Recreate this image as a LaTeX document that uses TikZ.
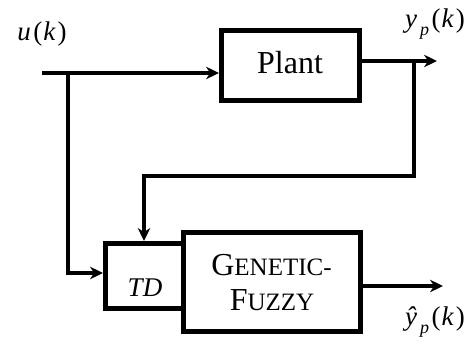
\documentclass[tikz,border=0pt]{standalone}
\usepackage{fontspec}
\setmainfont{Liberation Serif}
\usetikzlibrary{arrows.meta}
\begin{document}
\begin{tikzpicture}[x=1pt,y=-1pt,
  wire/.style={line width=3.3pt, -{Stealth[length=13pt,width=12.5pt]}},
  blk/.style={draw, line width=5pt, inner sep=0pt, fill=white},
  txt/.style={inner sep=0pt, font=\fontsize{32}{37}\selectfont},
  lbl/.style={inner sep=0pt, font=\fontsize{27}{32}\selectfont}]
\useasboundingbox (0,0) rectangle (474,352);
% blocks
\node[blk, minimum width=138pt, minimum height=70pt] (plant) at (290.5,65.5) {};
\node[txt] (plantt) at (290,62.5) {Plant};
\node[blk, minimum width=78pt, minimum height=65pt] (td) at (144.5,276) {};
\node[blk, minimum width=177pt, minimum height=99pt] (gf) at (272,282) {};
\node[inner sep=0pt, font=\fontsize{27}{32}\selectfont\itshape] (tdt) at (145,288) {TD};
\node[txt] (gft1) at (271.5,265) {G{\fontsize{25}{29}\selectfont ENETIC-}};
\node[txt] (gft2) at (272,300) {F{\fontsize{25}{29}\selectfont UZZY}};
% coordinates
\coordinate (uin) at (42,73);
\coordinate (br) at (68,73);
\coordinate (tdin) at (68,273);
\coordinate (pout) at (437,61);
\coordinate (fb1) at (414,61);
\coordinate (fb2) at (414,176);
\coordinate (fb3) at (144,176);
\coordinate (gout) at (443,286);
% connectors
\draw[wire] (uin) -- (uin -| plant.west);
\draw[wire] (br) -- (tdin) -- (tdin -| td.west);
\draw[wire] (plant.east |- pout) -- (pout);
\draw[wire] (fb1) -- (fb2) -- (fb3) -- (fb3 |- td.north);
\draw[wire] (gf.east |- gout) -- (gout);
% labels
\node[lbl] (ul) at (42,34) {\textit{u}\kern2.5pt(\kern1pt\textit{k}\kern2pt)};
\node[lbl] (ypl) at (435,24) {\textit{y}\kern3pt\raisebox{-0.3em}{\fontsize{18}{21}\selectfont\textit{p}}\kern2.5pt(\kern1pt\textit{k}\kern2pt)};
\node[lbl] (yhl) at (435,322) {\textit{ŷ}\kern3pt\raisebox{-0.3em}{\fontsize{18}{21}\selectfont\textit{p}}\kern2.5pt(\kern1pt\textit{k}\kern2pt)};
\end{tikzpicture}
\end{document}
